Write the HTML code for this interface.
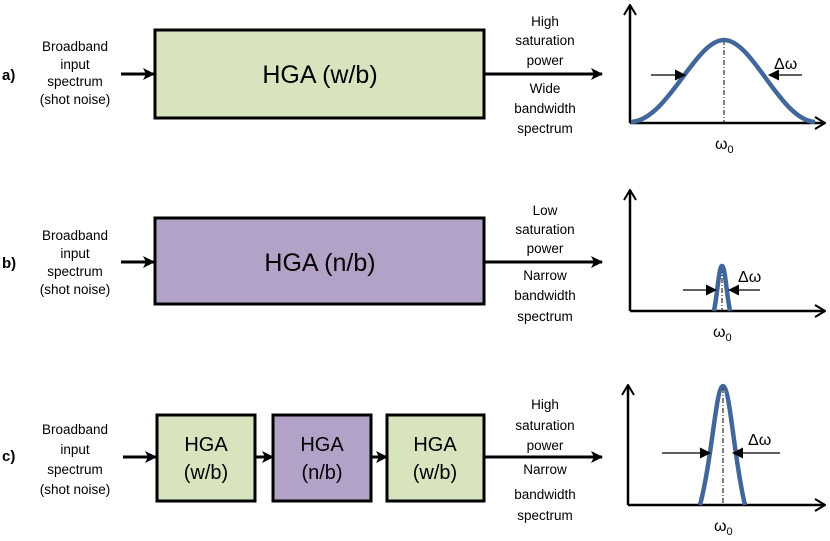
<!DOCTYPE html>
<html><head><meta charset="utf-8"><style>
body{margin:0;background:#fff}
text{font-family:"Liberation Sans",sans-serif;fill:#000}
.s{font-size:13.5px;text-anchor:middle}
.lab{font-size:15px;font-weight:bold}
</style></head><body>
<svg width="830" height="536" viewBox="0 0 830 536" xmlns="http://www.w3.org/2000/svg">
<defs>
<marker id="ah" markerWidth="12" markerHeight="12" refX="11" refY="6" orient="auto" markerUnits="userSpaceOnUse"><path d="M0,0 L12,6 L0,12 L3,6 Z" fill="#000"/></marker>
<marker id="oa" markerWidth="12" markerHeight="14" refX="11" refY="7" orient="auto" markerUnits="userSpaceOnUse"><path d="M1,1 L11,7 L1,13" fill="none" stroke="#000" stroke-width="2"/></marker>
<marker id="sa" markerWidth="11" markerHeight="11" refX="10" refY="5.5" orient="auto" markerUnits="userSpaceOnUse"><path d="M0,0 L11,5.5 L0,11 Z" fill="#000"/></marker>
</defs>
<g stroke="#000" stroke-width="3" fill="none">
<line x1="121" y1="74" x2="154" y2="74" marker-end="url(#ah)"/>
<line x1="484" y1="74" x2="602" y2="74" marker-end="url(#ah)"/>
<line x1="121" y1="262" x2="154" y2="262" marker-end="url(#ah)"/>
<line x1="484" y1="262" x2="602" y2="262" marker-end="url(#ah)"/>
<line x1="123" y1="457" x2="156" y2="457" marker-end="url(#ah)"/>
<line x1="255" y1="457" x2="273" y2="457" marker-end="url(#ah)"/>
<line x1="371" y1="457" x2="387" y2="457" marker-end="url(#ah)"/>
<line x1="484" y1="457" x2="602" y2="457" marker-end="url(#ah)"/>
</g>
<rect x="155" y="30" width="329" height="88" fill="#d7e4bd" stroke="#000" stroke-width="3"/>
<rect x="155" y="218" width="329" height="86" fill="#b3a2c7" stroke="#000" stroke-width="3"/>
<rect x="157" y="415" width="98" height="86" fill="#d7e4bd" stroke="#000" stroke-width="3"/>
<rect x="273" y="415" width="98" height="86" fill="#b3a2c7" stroke="#000" stroke-width="3"/>
<rect x="387" y="415" width="97" height="86" fill="#d7e4bd" stroke="#000" stroke-width="3"/>
<text x="320" y="83" font-size="25" text-anchor="middle">HGA (w/b)</text>
<text x="320" y="271" font-size="25" text-anchor="middle">HGA (n/b)</text>
<g font-size="20" text-anchor="middle">
<text x="206" y="451">HGA</text><text x="206" y="479">(w/b)</text>
<text x="322" y="451">HGA</text><text x="322" y="479">(n/b)</text>
<text x="435" y="451">HGA</text><text x="435" y="479">(w/b)</text>
</g>
<text class="lab" x="2" y="80">a)</text>
<text class="lab" x="2" y="268">b)</text>
<text class="lab" x="2" y="461">c)</text>
<g class="s">
<text x="75" y="51">Broadband</text><text x="75" y="69">input</text><text x="75" y="86">spectrum</text><text x="75" y="104">(shot noise)</text>
<text x="75" y="240">Broadband</text><text x="75" y="258">input</text><text x="75" y="276">spectrum</text><text x="75" y="294">(shot noise)</text>
<text x="75" y="434">Broadband</text><text x="75" y="454">input</text><text x="75" y="474">spectrum</text><text x="75" y="494">(shot noise)</text>
<text x="545" y="26">High</text><text x="545" y="45">saturation</text><text x="545" y="65">power</text>
<text x="545" y="93">Wide</text><text x="545" y="113">bandwidth</text><text x="545" y="133">spectrum</text>
<text x="545" y="215">Low</text><text x="545" y="234">saturation</text><text x="545" y="253">power</text>
<text x="545" y="280">Narrow</text><text x="545" y="300">bandwidth</text><text x="545" y="321">spectrum</text>
<text x="545" y="409">High</text><text x="545" y="430">saturation</text><text x="545" y="450">power</text>
<text x="545" y="474">Narrow</text><text x="545" y="499">bandwidth</text><text x="545" y="520">spectrum</text>
</g>
<g stroke="#000" stroke-width="2.5" fill="none">
<line x1="630" y1="123" x2="630" y2="5" marker-end="url(#oa)"/>
<line x1="630" y1="123" x2="825" y2="123" marker-end="url(#oa)"/>
<line x1="630" y1="311" x2="630" y2="190" marker-end="url(#oa)"/>
<line x1="630" y1="311" x2="825" y2="311" marker-end="url(#oa)"/>
<line x1="628" y1="505" x2="628" y2="385" marker-end="url(#oa)"/>
<line x1="628" y1="505" x2="825" y2="505" marker-end="url(#oa)"/>
</g>
<g stroke="#000" stroke-width="1" stroke-dasharray="5,2,1,2">
<line x1="724" y1="40" x2="724" y2="123"/>
<line x1="722" y1="268" x2="722" y2="311"/>
<line x1="723" y1="388" x2="723" y2="505"/>
</g>
<g stroke="#41679a" stroke-width="4.5" fill="none">
<path d="M631,122 C668,120 695,40 724,40 C753,40 780,120 815,122"/>
<path d="M714,311 C718,290 719,266 722,266 C725,266 726,290 730,311"/>
<path d="M700,505 C712,460 716,386 723,386 C730,386 734,460 745,505"/>
</g>
<g stroke="#000" stroke-width="1.3">
<line x1="651" y1="75" x2="685" y2="75" marker-end="url(#sa)"/>
<line x1="802" y1="75" x2="769" y2="75" marker-end="url(#sa)"/>
<line x1="683" y1="290" x2="716" y2="290" marker-end="url(#sa)"/>
<line x1="760" y1="290" x2="729" y2="290" marker-end="url(#sa)"/>
<line x1="662" y1="453" x2="710" y2="453" marker-end="url(#sa)"/>
<line x1="780" y1="453" x2="733" y2="453" marker-end="url(#sa)"/>
</g>
<g font-size="16">
<text x="774" y="69">Δω</text>
<text x="738" y="282">Δω</text>
<text x="748" y="445">Δω</text>
<text x="715" y="149">ω<tspan font-size="11" dy="4">0</tspan></text>
<text x="713" y="337">ω<tspan font-size="11" dy="4">0</tspan></text>
<text x="714" y="531">ω<tspan font-size="11" dy="4">0</tspan></text>
</g>
</svg>
</body></html>
